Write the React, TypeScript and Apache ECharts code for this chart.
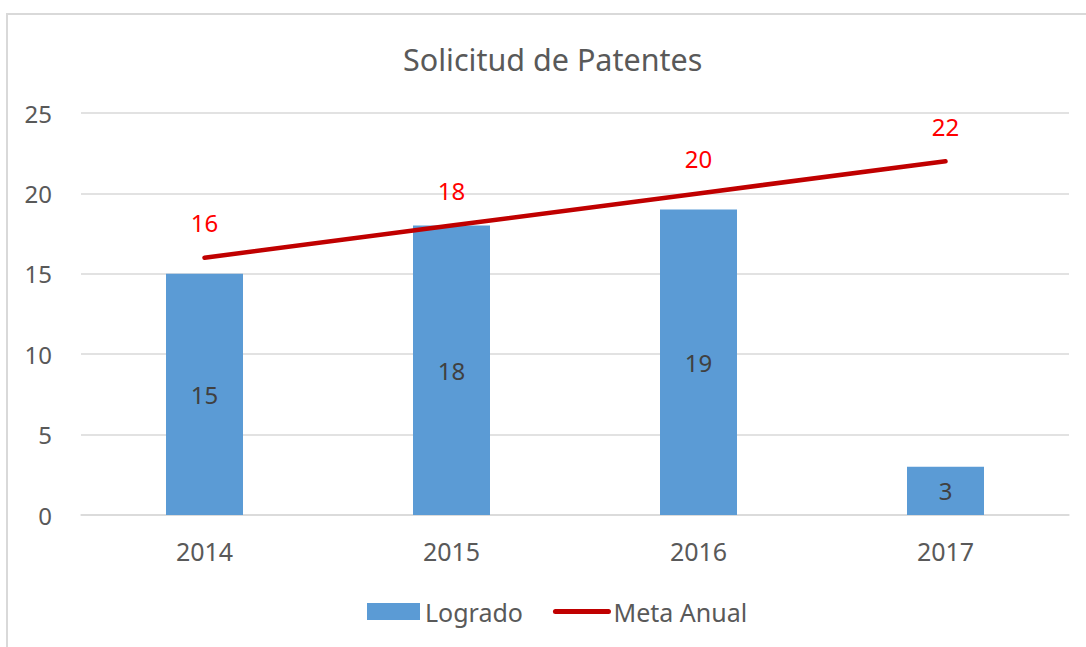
import React, { useEffect, useRef } from "react";
import * as echarts from "echarts";

const categories = ["2014", "2015", "2016", "2017"];
const logrado = [15, 18, 19, 3];
const metaAnual = [16, 18, 20, 22];

const FONT = "'Noto Sans', 'Open Sans', sans-serif";
const GREY = "#595959";

export default function App() {
  const ref = useRef<HTMLDivElement>(null);
  useEffect(() => {
    if (!ref.current) return;
    const chart = echarts.init(ref.current, undefined, { renderer: "svg" });
    chart.setOption({
      animation: false,
      backgroundColor: "#ffffff",
      textStyle: { fontFamily: FONT },
      graphic: [
        {
          type: "rect",
          shape: { x: 7, y: 14, width: 1200, height: 800 },
          style: { fill: "none", stroke: "#d9d9d9", lineWidth: 2 },
          silent: true,
          z: -10,
        },
      ],
      title: {
        text: "Solicitud de Patentes",
        left: 398,
        top: 38,
        textStyle: { fontFamily: FONT, fontSize: 30.5, fontWeight: "normal", color: GREY },
      },
      legend: {
        bottom: 18,
        left: 362,
        itemWidth: 53,
        itemHeight: 17,
        itemGap: 30,
        textStyle: { fontFamily: FONT, fontSize: 25, color: GREY },
        data: [
          { name: "Logrado", icon: "rect" },
          {
            name: "Meta Anual",
            itemStyle: { color: "rgba(0,0,0,0)", opacity: 0, borderWidth: 0 },
            lineStyle: { color: "#c00000", width: 5, cap: "round" },
          },
        ],
      },
      grid: { left: 81, right: 17, top: 113, bottom: 132, containLabel: false },
      xAxis: {
        type: "category",
        data: categories,
        axisLine: { show: true, lineStyle: { color: "#d9d9d9", width: 1.5 } },
        axisTick: { show: false },
        axisLabel: { fontFamily: FONT, fontSize: 25, color: GREY, margin: 23 },
      },
      yAxis: {
        type: "value",
        min: 0,
        max: 25,
        interval: 5,
        axisLine: { show: false },
        axisTick: { show: false },
        splitLine: { lineStyle: { color: "#d9d9d9", width: 1.5 } },
        axisLabel: { fontFamily: FONT, fontSize: 24, color: GREY, margin: 29 },
      },
      series: [
        {
          name: "Logrado",
          type: "bar",
          data: logrado,
          barWidth: 77,
          itemStyle: { color: "#5b9bd5" },
          label: {
            show: true,
            position: "inside",
            fontFamily: FONT,
            fontSize: 24,
            color: "#404040",
          },
        },
        {
          name: "Meta Anual",
          type: "line",
          data: metaAnual,
          symbol: "circle",
          symbolSize: 2,
          showSymbol: true,
          lineStyle: { color: "#c00000", width: 4.5, cap: "round" },
          itemStyle: { color: "#c00000" },
          label: {
            show: true,
            position: "top",
            distance: 22,
            fontFamily: FONT,
            fontSize: 24,
            color: "#ff0000",
          },
        },
      ],
    });
    return () => chart.dispose();
  }, []);
  return (
    <div
      ref={ref}
      style={{ position: "fixed", left: 0, top: 0, width: 1086, height: 647 }}
    />
  );
}
